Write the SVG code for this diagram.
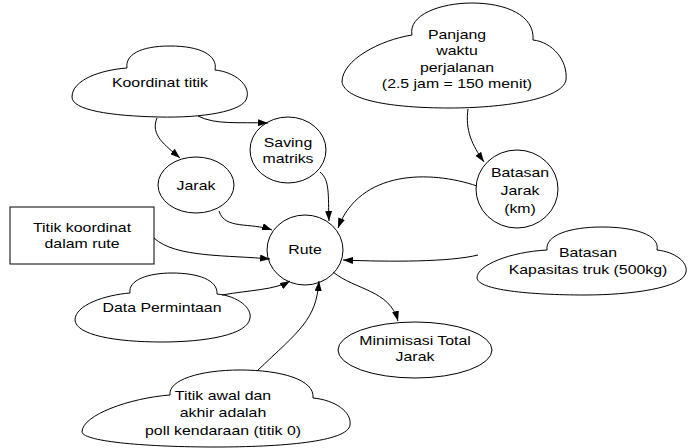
<svg xmlns="http://www.w3.org/2000/svg" width="689" height="448" viewBox="0 0 689 448">
<style>
.n{fill:#fff;stroke:#000;stroke-width:1}
.t{font-family:"Liberation Sans",Arial,sans-serif;font-size:13px;text-anchor:middle;fill:#000}
.c{fill:none;stroke:#000;stroke-width:1;marker-end:url(#ah)}
</style>
<defs>
<marker id="ah" viewBox="0 0 10 7" refX="10" refY="3.5" markerWidth="10" markerHeight="7" markerUnits="userSpaceOnUse" orient="auto">
<path d="M0,0 L10,3.5 L0,7 Z" fill="#000"/>
</marker>
</defs>
<rect width="689" height="448" fill="#fff"/>
<g id="koordinat-titik">
<path class="n" d="M127,68 C125,55 140,46 170,46 C200,46 218,55 215,70 C235,72 250,85 247,97 C245,112 200,118 160,117 C110,116 72,110 72,97 C72,80 100,70 127,68 Z"/>
<text class="t" transform="translate(160,87) scale(1.22,1)">Koordinat titik</text>
</g>
<g id="panjang-waktu">
<path class="n" d="M412,35 C408,15 440,3 472,3 C505,3 535,15 533,40 C552,42 568,60 566,80 C562,100 500,108 450,108 C390,108 345,100 342,82 C342,60 380,40 412,35 Z"/>
<text class="t" transform="translate(457,0) scale(1.22,1)"><tspan x="0" y="39">Panjang</tspan><tspan x="0" y="55">waktu</tspan><tspan x="0" y="72">perjalanan</tspan><tspan x="0" y="88">(2.5 jam = 150 menit)</tspan></text>
</g>
<g id="saving-matriks">
<ellipse class="n" cx="288" cy="150" rx="38" ry="33"/>
<text class="t" transform="translate(288,0) scale(1.22,1)"><tspan x="0" y="147">Saving</tspan><tspan x="0" y="163">matriks</tspan></text>
</g>
<g id="jarak">
<ellipse class="n" cx="196" cy="185" rx="38" ry="28"/>
<text class="t" transform="translate(196,190) scale(1.22,1)">Jarak</text>
</g>
<g id="titik-koordinat">
<rect class="n" x="10" y="207" width="144" height="57"/>
<text class="t" transform="translate(82,0) scale(1.22,1)"><tspan x="0" y="232">Titik koordinat</tspan><tspan x="0" y="248">dalam rute</tspan></text>
</g>
<g id="rute">
<ellipse class="n" cx="305" cy="250" rx="38" ry="35"/>
<text class="t" transform="translate(305,254) scale(1.22,1)">Rute</text>
</g>
<g id="batasan-jarak">
<ellipse class="n" cx="517" cy="189" rx="41" ry="39"/>
<text class="t" transform="translate(520,0) scale(1.22,1)"><tspan x="0" y="177">Batasan</tspan><tspan x="0" y="195">Jarak</tspan><tspan x="0" y="213">(km)</tspan></text>
</g>
<g id="batasan-kapasitas">
<path class="n" d="M547,250 C545,235 570,227 602,227 C635,227 660,235 657,250 C675,252 688,262 686,272 C684,288 630,295 585,295 C530,295 478,290 477,278 C477,265 510,252 547,250 Z"/>
<text class="t" transform="translate(588,0) scale(1.22,1)"><tspan x="0" y="257">Batasan</tspan><tspan x="0" y="274">Kapasitas truk (500kg)</tspan></text>
</g>
<g id="data-permintaan">
<path class="n" d="M130,293 C128,280 148,273 172,273 C198,273 218,280 217,294 C238,296 252,308 250,318 C248,335 205,342 162,342 C115,342 76,335 75,320 C75,305 105,295 130,293 Z"/>
<text class="t" transform="translate(162,312) scale(1.22,1)">Data Permintaan</text>
</g>
<g id="minimisasi">
<ellipse class="n" cx="415" cy="350" rx="77" ry="28"/>
<text class="t" transform="translate(415,0) scale(1.22,1)"><tspan x="0" y="345">Minimisasi Total</tspan><tspan x="0" y="361">Jarak</tspan></text>
</g>
<g id="titik-awal">
<path class="n" d="M170,395 C168,380 200,370 240,370 C282,370 315,380 313,398 C335,400 352,412 350,425 C348,442 280,447 215,447 C150,447 84,442 82,432 C82,415 130,398 170,395 Z"/>
<text class="t" transform="translate(223,0) scale(1.22,1)"><tspan x="0" y="400">Titik awal dan</tspan><tspan x="0" y="417">akhir adalah</tspan><tspan x="0" y="435">poll kendaraan (titik 0)</tspan></text>
</g>
<g id="connectors">
<path class="c" d="M157,118 C150,135 165,145 180,158"/>
<path class="c" d="M198,116 C215,125 240,122 268,123"/>
<path class="c" d="M320,172 C330,180 328,195 329,221"/>
<path class="c" d="M219,211 C225,230 250,222 272,230"/>
<path class="c" d="M154,238 C175,258 230,255 270,259"/>
<path class="c" d="M222,295 C250,290 275,290 290,281"/>
<path class="c" d="M257,371 C300,330 316,320 319,281"/>
<path class="c" d="M333,272 C355,290 390,290 398,321"/>
<path class="c" d="M477,186 C430,170 360,170 338,228"/>
<path class="c" d="M468,109 C465,130 472,145 484,162"/>
<path class="c" d="M478,255 C450,262 390,262 343,260"/>
</g>
</svg>
